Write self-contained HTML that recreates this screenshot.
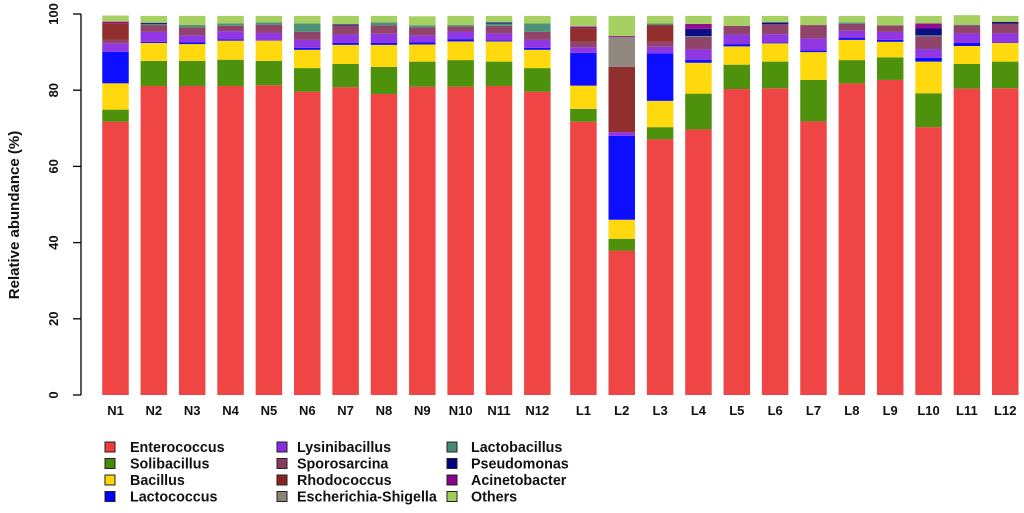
<!DOCTYPE html>
<html><head><meta charset="utf-8"><style>
body{margin:0;background:#fff;}
svg text{font-family:"Liberation Sans",Arial,sans-serif;font-weight:bold;}
</style></head><body>
<svg id="chart" width="1024" height="508" viewBox="0 0 1024 508" xmlns="http://www.w3.org/2000/svg">
<g id="bars"></g>
<g id="axis"></g>
<g id="xlabels"></g>
<g id="legend"></g>
<text transform="translate(19,215) rotate(-90)" text-anchor="middle" font-size="15" fill="#111">Relative abundance (%)</text>
</svg>
<script>
const samples = ["N1","N2","N3","N4","N5","N6","N7","N8","N9","N10","N11","N12","L1","L2","L3","L4","L5","L6","L7","L8","L9","L10","L11","L12"];
const species = ["Enterococcus","Solibacillus","Bacillus","Lactococcus","Lysinibacillus","Sporosarcina","Rhodococcus","Escherichia-Shigella","Lactobacillus","Pseudomonas","Acinetobacter","Others"];
const colors = ["#EE3B3B","#458B00","#FFD700","#0000FF","#8A2BE2","#8B3A62","#8B2323","#8B8378","#458B74","#000080","#8B008B","#A2CD5A"];
const enterococcus = [71.7,81.1,81.1,81.1,81.3,79.6,80.8,79.0,80.9,80.9,81.1,79.6,71.7,37.9,67.1,69.7,80.3,80.5,71.8,81.8,82.7,70.3,80.4,80.5];
const solibacillus = [3.2,6.6,6.6,6.9,6.4,6.2,6.1,7.1,6.6,7.0,6.4,6.2,3.4,3.1,3.2,9.4,6.4,7.0,10.9,6.1,5.9,8.9,6.5,7.0];
const bacillus = [6.9,4.7,4.4,5.0,5.3,4.8,5.0,5.8,4.5,4.9,5.3,4.8,6.1,5.0,6.9,8.1,4.8,4.8,7.3,5.3,4.1,8.3,4.7,4.9];
const lactococcus = [8.3,0.3,0.5,0.3,0.1,0.5,0.5,0.5,0.6,0.6,0.3,0.5,8.6,22.0,12.5,0.8,0.6,0.2,0.4,0.5,0.5,1.0,0.8,0.1];
const lysinibacillus = [2.2,2.6,1.8,2.2,1.9,2.1,2.2,2.4,1.8,2.0,1.8,2.1,1.5,1.0,1.7,2.7,2.5,2.2,3.2,1.9,2.1,2.3,2.5,2.4];
const sporosarcina = [0.9,1.8,2.1,1.4,2.2,2.1,2.4,2.2,2.1,1.3,2.0,2.1,1.5,0,1.3,3.3,2.3,2.6,3.5,1.8,1.7,3.3,2.1,2.6];
const rhodococcus = [4.4,0,0,0,0,0,0,0,0,0,0,0,3.5,17.1,4.4,0,0,0,0,0,0,0,0,0];
const escherichia = [0,0,0,0,0,0,0,0,0,0,0,0,0,7.8,0,0,0,0,0,0,0,0,0,0];
const lactobacillus = [0,0.3,0.6,0.6,0.6,2.2,0,0.8,0.5,0.4,0.6,2.2,0,0,0.4,0.2,0,0,0,0.4,0,0.3,0.2,0];
const pseudomonas = [0,0.3,0,0,0,0,0.3,0,0,0,0.3,0,0,0,0,1.9,0,0.5,0,0,0,1.8,0,0.4];
const acinetobacter = [0.4,0,0,0,0,0,0,0,0,0,0,0,0.4,0.3,0,1.3,0,0,0,0,0,1.3,0,0];
const others = [1.6,1.8,2.4,2.0,1.7,2.0,2.2,1.7,2.4,2.4,1.7,2.0,2.8,5.3,2.0,2.1,2.6,1.7,2.4,1.7,2.5,2.0,2.5,1.6];
const series = [enterococcus,solibacillus,bacillus,lactococcus,lysinibacillus,sporosarcina,rhodococcus,escherichia,lactobacillus,pseudomonas,acinetobacter,others];
const yTicks = [0,20,40,60,80,100];

const NS="http://www.w3.org/2000/svg";
const y0=395, yTop=14;
function yScale(v){return y0-(y0-yTop)*v/100;}
function xCenter(i){return 115.5+i*38.35+(i>=12?7.7:0);}
const bw=26.5;
function mk(tag,attrs,parent){const e=document.createElementNS(NS,tag);for(const k in attrs)e.setAttribute(k,attrs[k]);parent.appendChild(e);return e;}

const barsG=document.getElementById('bars');
samples.forEach((s,i)=>{
  let cum=0;
  series.forEach((arr,k)=>{
    const v=arr[i]; if(v<=0) return;
    const r=mk('rect',{x:xCenter(i)-bw/2,y:yScale(cum+v),width:bw,height:yScale(cum)-yScale(cum+v),fill:colors[k],'fill-opacity':0.95},barsG);
    
    
    cum+=v;
  });
  const t=mk('text',{x:xCenter(i),y:415,'text-anchor':'middle','font-size':13,fill:'#111'},document.getElementById('xlabels'));
  t.textContent=s;
  
  
});

const ax=document.getElementById('axis');
mk('line',{x1:81,x2:81,y1:yScale(0),y2:yScale(100),stroke:'#000','stroke-width':1.3},ax);
yTicks.forEach(v=>{
  mk('line',{x1:73,x2:81,y1:yScale(v),y2:yScale(v),stroke:'#000','stroke-width':1.3},ax);
  const t=mk('text',{transform:`translate(58,${yScale(v)}) rotate(-90)`,'text-anchor':'middle','font-size':13,fill:'#111'},ax);
  t.textContent=v;
  
  
});

const lg=document.getElementById('legend');
const colX=[105,277,447], textX=[130,297,471], rowY=[447,463.5,480,496.5];
species.forEach((sp,k)=>{
  const c=Math.floor(k/4), r=k%4;
  const g=mk('g',{},lg);
  
  
  mk('rect',{x:colX[c],y:rowY[r]-5,width:10,height:10,fill:colors[k],stroke:'#222','stroke-width':1},g);
  const t=mk('text',{x:textX[c],y:rowY[r]+5,'font-size':14.3,fill:'#111'},g);
  t.textContent=sp;
});
</script>
</body></html>
